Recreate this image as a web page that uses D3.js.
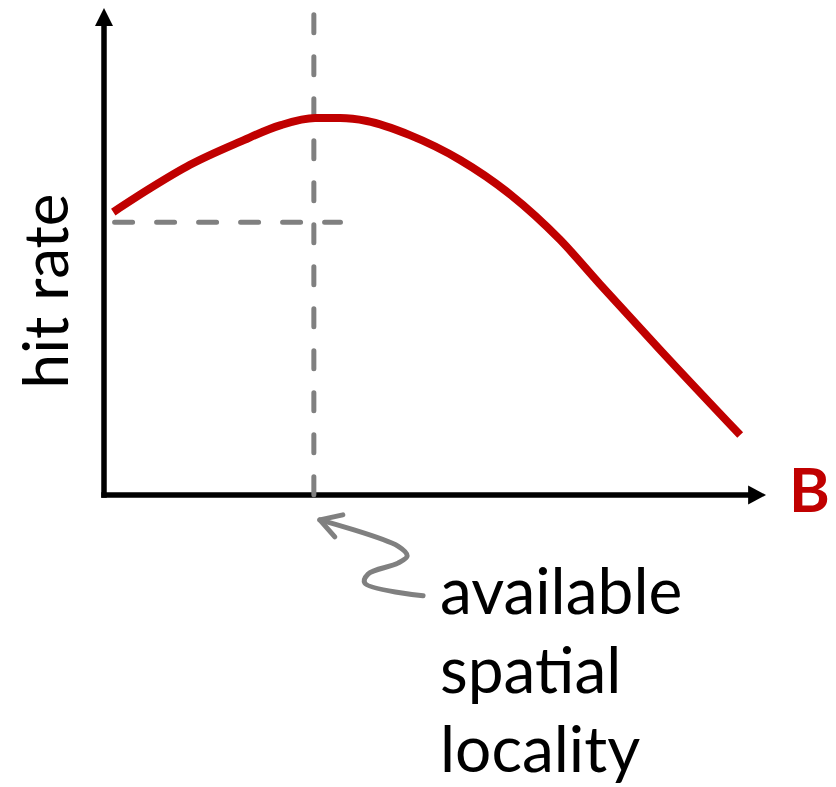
<!DOCTYPE html>
<html>
<head>
<meta charset="utf-8">
<script src="https://cdn.jsdelivr.net/npm/d3@7/dist/d3.min.js"></script>
<style>
  html, body { margin: 0; padding: 0; background: #fff; }
  svg { display: block; }
  text { font-family: Lato, "Open Sans", sans-serif; }
</style>
</head>
<body>
<svg id="chart" width="836" height="787"></svg>
<script>
// Block size B (arbitrary units) and the resulting hit rate (arbitrary units)
const blockSize = [1.4, 7, 13, 20.5, 26.6, 31.9, 35.7, 39.7, 46.2, 53.8, 61.3, 68.9, 74.9, 84, 96.1];
const hitRate   = [58.1, 63, 67.8, 72.5, 75.9, 77.4, 77.4, 76.8, 73.9, 68.8, 61.8, 52.4, 43.3, 29.8, 12.3];

// Peak of the curve: block size that matches the available spatial locality
const peakB = 31.7;
const baseHit = 56;        // level of the horizontal guide
const guideXEnd = 36.1;    // where the horizontal guide stops
const guideYTop = 98.6;    // where the vertical guide stops

// Axis labels and annotation text
const yLabel = "hit rate";
const xLabel = "B";
const noteLines = ["available", "spatial", "locality"];

// Wavy pointer from the annotation up to the peak position (data units)
const pointerB   = [32.6, 44.4, 45.8, 44.4, 39.9, 39.4, 48.2];
const pointerHit = [-5.1, -10.5, -12.5, -14.0, -16.2, -18.1, -20.7];

const svg = d3.select("#chart");

const x = d3.scaleLinear().domain([0, 100]).range([104, 766]);
const y = d3.scaleLinear().domain([0, 100]).range([495, 8]);

const red = "#C00000";
const grey = "#808080";

// Axes with arrowheads
const axisW = 5.5;
svg.append("line")
  .attr("x1", x(0)).attr("y1", y(0) + axisW / 2)
  .attr("x2", x(0)).attr("y2", y(96.5))
  .attr("stroke", "#000").attr("stroke-width", axisW);
svg.append("path")
  .attr("d", `M${x(0)},${y(100)} L${x(0) + 9},${y(96.3)} L${x(0) - 9},${y(96.3)} Z`)
  .attr("fill", "#000");

svg.append("line")
  .attr("x1", x(0) - axisW / 2).attr("y1", y(0))
  .attr("x2", x(97.5)).attr("y2", y(0))
  .attr("stroke", "#000").attr("stroke-width", axisW);
svg.append("path")
  .attr("d", `M${x(100)},${y(0)} L${x(97.3)},${y(0) - 9.5} L${x(97.3)},${y(0) + 9.5} Z`)
  .attr("fill", "#000");

// Dashed guides
const dash = "18 24";
svg.append("line")
  .attr("x1", x(1.6)).attr("y1", y(baseHit))
  .attr("x2", x(guideXEnd) - 2.5).attr("y2", y(baseHit))
  .attr("stroke", grey).attr("stroke-width", 5)
  .attr("stroke-linecap", "round").attr("stroke-dasharray", dash);
svg.append("line")
  .attr("x1", x(peakB)).attr("y1", y(guideYTop))
  .attr("x2", x(peakB)).attr("y2", y(0))
  .attr("stroke", grey).attr("stroke-width", 5)
  .attr("stroke-linecap", "round").attr("stroke-dasharray", dash);

// Hit-rate curve
const pts = blockSize.map((b, i) => [b, hitRate[i]]);
svg.append("path")
  .datum(pts)
  .attr("d", d3.line().x(d => x(d[0])).y(d => y(d[1])).curve(d3.curveMonotoneX))
  .attr("fill", "none")
  .attr("stroke", red)
  .attr("stroke-width", 8);

// Wavy pointer
const ptr = pointerB.map((b, i) => [b, pointerHit[i]]);
svg.append("path")
  .datum(ptr)
  .attr("d", d3.line().x(d => x(d[0])).y(d => y(d[1])).curve(d3.curveCatmullRom.alpha(0.5)))
  .attr("fill", "none")
  .attr("stroke", grey)
  .attr("stroke-width", 5)
  .attr("stroke-linecap", "round");
const tipX = x(pointerB[0]), tipY = y(pointerHit[0]);
svg.append("path")
  .attr("d", `M${tipX + 23},${tipY - 5} L${tipX},${tipY} L${tipX + 15},${tipY + 17}`)
  .attr("fill", "none")
  .attr("stroke", grey)
  .attr("stroke-width", 5)
  .attr("stroke-linecap", "round")
  .attr("stroke-linejoin", "round");

// Labels
svg.append("text")
  .attr("transform", `translate(68,291) rotate(-90)`)
  .attr("text-anchor", "middle")
  .attr("font-size", 62)
  .attr("fill", "#000")
  .text(yLabel);

svg.append("text")
  .attr("x", 789).attr("y", 512)
  .attr("font-size", 62)
  .attr("font-weight", "bold")
  .attr("fill", red)
  .text(xLabel);

svg.append("g").selectAll("text")
  .data(noteLines)
  .join("text")
  .attr("x", 440)
  .attr("y", (d, i) => 614 + i * 79)
  .attr("font-size", 64)
  .attr("fill", "#000")
  .text(d => d);
</script>
</body>
</html>
